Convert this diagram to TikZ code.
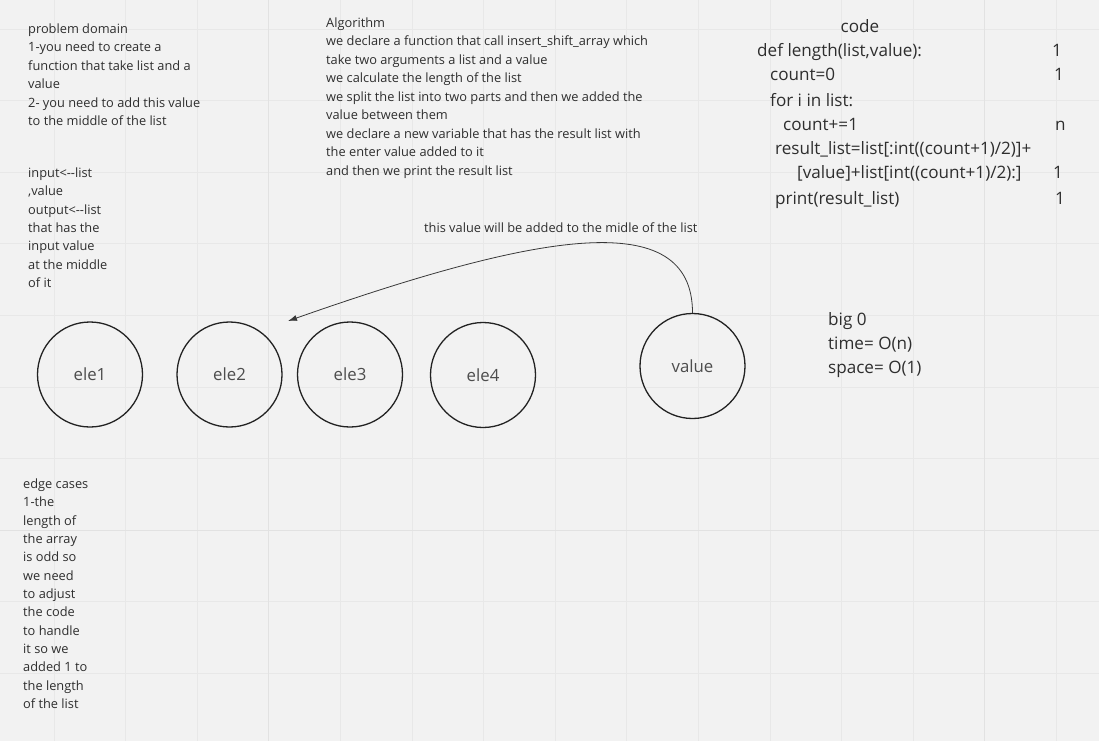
\documentclass[tikz,border=0pt]{standalone}
\usepackage{fontspec}
\setmainfont{Open Sans}
\usetikzlibrary{arrows.meta}
\definecolor{bg}{HTML}{F2F2F2}
\definecolor{gridc}{HTML}{E8E8E8}
\definecolor{gridm}{HTML}{E2E2E2}
\definecolor{txt}{HTML}{2E2E2E}
\definecolor{ink}{HTML}{222222}
\tikzset{
  smalltxt/.style={font=\fontsize{12.8}{15}\selectfont, text=txt, inner sep=0pt, anchor=base west},
  bigtxt/.style={font=\fontsize{17.1}{20}\selectfont, text=txt, inner sep=0pt, anchor=base west},
  elem/.style={circle, draw=ink, line width=1.3pt, minimum size=105pt, inner sep=0pt,
               font=\fontsize{16.8}{20}\selectfont, text=txt!85!white},
  conn/.style={draw=ink!90, line width=0.8pt, -{Latex[length=9pt,width=6pt]}}
}
\begin{document}
\begin{tikzpicture}[x=1pt,y=-1pt]
\fill[bg] (0,0) rectangle (1099,741);
\useasboundingbox (0,0) rectangle (1099,741);
% grid
\foreach \k in {1,...,15}
  \draw[gridc, line width=0.8pt] ({-17.6+71.6*\k},0) -- ({-17.6+71.6*\k},741);
\foreach \k in {1,...,10}
  \draw[gridc, line width=0.8pt] (0,{-42.6+71.6*\k}) -- (1099,{-42.6+71.6*\k});
\draw[gridm, line width=1pt] (268.8,0) -- (268.8,741);
\draw[gridm, line width=1pt] (984.8,0) -- (984.8,741);
\draw[gridm, line width=1pt] (0,530.2) -- (1099,530.2);

% problem domain
\foreach \t [count=\i] in {{problem domain},{1-you need to create a},{function that take list and a},{value},{2- you need to add this value},{to the middle of the list}}
  \node[smalltxt, name=pd\i] at (28,{33.4+18.5*(\i-1)}) {\t};
% input / output
\foreach \t [count=\i] in {{input<-{}-list},{,value},{output<-{}-list},{that has the},{input value},{at the middle},{of it}}
  \node[smalltxt, name=io\i] at (28,{177.4+18.35*(\i-1)}) {\t};
% algorithm
\foreach \t [count=\i] in {{Algorithm},{we declare a function that call insert\_shift\_array which},{take two arguments a list and a value},{we calculate the length of the list},{we split the list into two parts and then we added the},{value between them},{we declare a new variable that has the result list with},{the enter value added to it},{and then we print the result list}}
  \node[smalltxt, name=al\i] at (326,{27.4+18.5*(\i-1)}) {\t};
% edge cases
\foreach \t [count=\i] in {{edge cases},{1-the},{length of},{the array},{is odd so},{we need},{to adjust},{the code},{to handle},{it so we},{added 1 to},{the length},{of the list}}
  \node[smalltxt, name=ec\i] at (23,{488.4+18.35*(\i-1)}) {\t};
% code
\node[bigtxt, anchor=base] (codeh) at (860,32.8) {code};
\node[bigtxt, name=c1] at (757,56.8) {def length(list,value):};
\node[bigtxt, name=c2] at (770,80.8) {count=0};
\node[bigtxt, name=c3] at (770,106.8) {for i in list:};
\node[bigtxt, name=c4] at (783,130.8) {count+=1};
\node[bigtxt, name=c5] at (775,154.8) {result\_list=list[:int((count+1)/2)]+};
\node[bigtxt, name=c6] at (797,178.8) {[value]+list[int((count+1)/2):]};
\node[bigtxt, name=c7] at (775,204.8) {print(result\_list)};
\node[bigtxt, name=n1] at (1052,56.8) {1};
\node[bigtxt, name=n2] at (1054,80.8) {1};
\node[bigtxt, name=n4] at (1055,130.8) {n};
\node[bigtxt, name=n6] at (1053,178.8) {1};
\node[bigtxt, name=n7] at (1055,204.8) {1};
% big O
\node[bigtxt, name=bo1] at (828,325.8) {big 0};
\node[bigtxt, name=bo2] at (828,349.8) {time= O(n)};
\node[bigtxt, name=bo3] at (828,373.8) {space= O(1)};
% elements
\node[elem] (e1) at (90,374.5) {ele1};
\node[elem] (e2) at (229.5,374.5) {ele2};
\node[elem] (e3) at (350,374.5) {ele3};
\node[elem] (e4) at (483,375) {ele4};
\node[elem] (val) at (692.5,366) {value};
% arrow
\node[smalltxt, name=lbl] at (424,232.4) {this value will be added to the midle of the list};
\coordinate (tip) at (288,321);
\draw[conn] (val.north) .. controls (692.5,205) and (538,233) .. (tip);
\end{tikzpicture}
\end{document}
